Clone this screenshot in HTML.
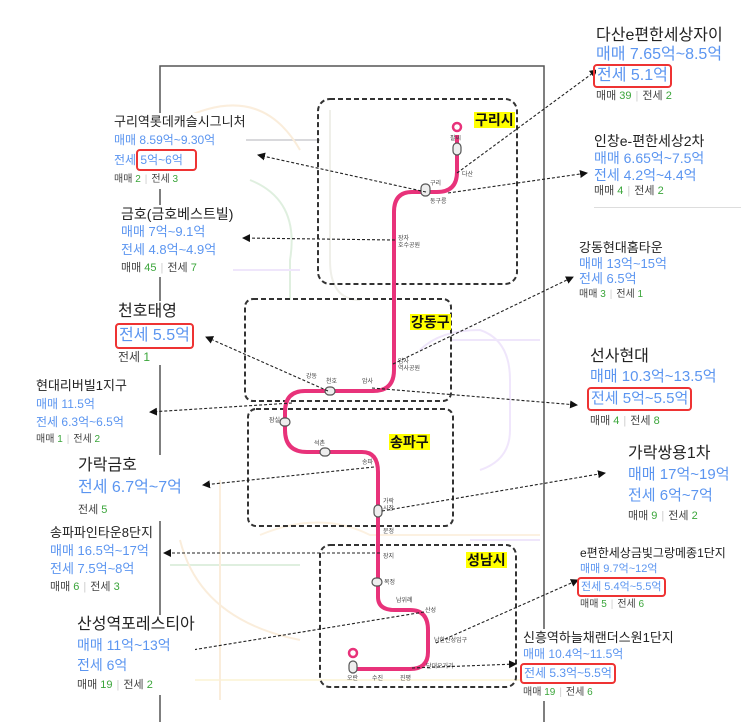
<!DOCTYPE html>
<html><head><meta charset="utf-8"><style>
body{margin:0;width:741px;height:722px;background:#fff;position:relative;overflow:hidden;font-family:"Liberation Sans","Noto Sans CJK KR",sans-serif}
.t{position:absolute;white-space:nowrap;background:#fff;line-height:1.2}
.t div{white-space:nowrap}
.h{color:#222}
.b{color:#5b95f0}
.s{color:#444}
.g{color:#3aa53a}
.sep{color:#ccc;margin:0 4px}
.box{border:2px solid #e33;border-radius:4px;padding:0 2px;margin-left:-3px;display:inline-block}
.y{position:absolute;background:#ffff00;font-weight:bold;color:#111;font-size:14px;line-height:16px;padding:0 1px}
</style></head><body>
<svg width="741" height="722" style="position:absolute;left:0;top:0">
<defs><marker id="a" markerWidth="8" markerHeight="8" refX="7" refY="4" orient="auto" markerUnits="userSpaceOnUse"><path d="M0,0 L8,4 L0,8z" fill="#111"/></marker></defs>
<g fill="none" stroke-width="2" opacity="0.18">
<path d="M160,140 H320" stroke="#334"/>
<path d="M180,120 Q260,80 300,150" stroke="#e8a040"/>
<path d="M250,180 Q300,200 290,260 V300" stroke="#5a5"/>
<path d="M330,110 V260 Q330,300 360,300" stroke="#aa8"/>
<path d="M170,270 H300" stroke="#a7e"/>
<path d="M450,340 H540" stroke="#a7e"/>
<path d="M420,350 Q440,330 480,330 Q510,340 510,380 V430 Q510,460 480,470" stroke="#a7e"/>
<path d="M170,565 H300" stroke="#5a5"/>
<path d="M180,540 Q200,620 300,640" stroke="#e8a040"/>
<path d="M260,535 Q320,510 370,535 H540" stroke="#f4b860"/>
<path d="M190,680 H540" stroke="#f4d050"/>
<path d="M220,480 V700" stroke="#e8a040"/>
<path d="M470,540 H540" stroke="#a7e"/>
</g>
<path d="M160,722 V66 H544 V722" fill="none" stroke="#555" stroke-width="1.5"/>
<g fill="none" stroke="#333" stroke-width="2" stroke-dasharray="5,3">
<rect x="318" y="99" width="199" height="185" rx="12"/>
<rect x="245" y="299" width="206" height="102" rx="8"/>
<rect x="248" y="409" width="205" height="117" rx="8"/>
<rect x="320" y="545" width="196" height="142" rx="10"/>
</g>
<path d="M457,135 V172 Q457,192 437,192 H412 Q394,192 394,212 V370 Q394,391 373,391 H305 Q285,391 285,412 V430 Q285,452 307,452 H362 Q378,452 378,472 V597 Q378,610 395,610 H410 Q428,610 428,630 V652 Q428,669 410,669 H353" fill="none" stroke="#e8327a" stroke-width="4"/>
<circle cx="457" cy="127" r="4" fill="#fff" stroke="#e8327a" stroke-width="2.5"/>
<circle cx="353" cy="653" r="4" fill="#fff" stroke="#e8327a" stroke-width="2.5"/>
<g fill="#eee" stroke="#555" stroke-width="1.2">
<rect x="453" y="143" width="8" height="12" rx="4"/>
<rect x="421" y="184" width="9" height="12" rx="4"/>
<rect x="325" y="387" width="10" height="8" rx="4"/>
<rect x="280" y="418" width="10" height="8" rx="4"/>
<rect x="320" y="448" width="10" height="8" rx="4"/>
<rect x="374" y="505" width="8" height="12" rx="4"/>
<rect x="372" y="578" width="10" height="8" rx="4"/>
<rect x="349" y="661" width="8" height="12" rx="4"/>
</g>
<g font-size="6" fill="#444">
<text x="450" y="140">팔씨</text><text x="462" y="176">다산</text><text x="430" y="185">구리</text><text x="430" y="203">동구릉</text>
<text x="398" y="240">장자</text><text x="398" y="247">호수공원</text><text x="398" y="363">암사</text><text x="398" y="370">역사공원</text>
<text x="326" y="383">천호</text><text x="306" y="378">강동</text><text x="362" y="383">암사</text><text x="269" y="422">잠실</text>
<text x="314" y="445">석촌</text><text x="362" y="464">송파</text><text x="383" y="503">가락</text><text x="383" y="510">시장</text>
<text x="383" y="533">문정</text><text x="383" y="558">장지</text><text x="384" y="584">복정</text><text x="396" y="602">남위례</text>
<text x="425" y="612">산성</text><text x="434" y="642">남한산성입구</text><text x="426" y="668">단대오거리</text>
<text x="347" y="680">오란</text><text x="372" y="680">수진</text><text x="400" y="680">진평</text>
</g>
<g stroke="#222" stroke-width="1.1" stroke-dasharray="3,2" fill="none" marker-end="url(#a)">
<line x1="457" y1="173" x2="597" y2="70"/>
<line x1="448" y1="193" x2="587" y2="173"/>
<line x1="426" y1="192" x2="258" y2="155"/>
<line x1="395" y1="240" x2="243" y2="238"/>
<line x1="393" y1="364" x2="573" y2="277"/>
<line x1="328" y1="391" x2="206" y2="337"/>
<line x1="372" y1="388" x2="577" y2="405"/>
<line x1="292" y1="403" x2="150" y2="412"/>
<line x1="374" y1="467" x2="203" y2="485"/>
<line x1="382" y1="511" x2="605" y2="473"/>
<line x1="380" y1="553" x2="164" y2="553"/>
<line x1="424" y1="612" x2="180" y2="652"/>
<line x1="436" y1="643" x2="578" y2="580"/>
<line x1="412" y1="668" x2="516" y2="664"/>
</g>
</svg>
<div class="y" style="left:474px;top:112px">구리시</div>
<div class="y" style="left:410px;top:314px">강동구</div>
<div class="y" style="left:389px;top:434px">송파구</div>
<div class="y" style="left:466px;top:552px">성남시</div>

<div class="t" style="left:596px;top:26px;font-size:16px"><div class="h">다산e편한세상자이</div><div class="b">매매 7.65억~8.5억</div><div class="b"><span class="box">전세 5.1억</span></div><div class="s" style="font-size:11px;margin-top:2px">매매 <span class="g">39</span><span class="sep">|</span>전세 <span class="g">2</span></div></div>
<div class="t" style="left:594px;top:133px;font-size:14px;width:147px;border-bottom:1px solid #ddd;padding-bottom:8px"><div class="h">인창e-편한세상2차</div><div class="b">매매 6.65억~7.5억</div><div class="b">전세 4.2억~4.4억</div><div class="s" style="font-size:11px;margin-top:2px">매매 <span class="g">4</span><span class="sep">|</span>전세 <span class="g">2</span></div></div>
<div class="t" style="left:579px;top:240px;font-size:13px"><div class="h">강동현대홈타운</div><div class="b">매매 13억~15억</div><div class="b">전세 6.5억</div><div class="s" style="font-size:10px;margin-top:2px">매매 <span class="g">3</span><span class="sep">|</span>전세 <span class="g">1</span></div></div>
<div class="t" style="left:590px;top:347px;font-size:15px;line-height:20px"><div class="h" style="font-size:16px">선사현대</div><div class="b">매매 10.3억~13.5억</div><div class="b"><span class="box">전세 5억~5.5억</span></div><div class="s" style="font-size:11px">매매 <span class="g">4</span><span class="sep">|</span>전세 <span class="g">8</span></div></div>
<div class="t" style="left:628px;top:443px;font-size:15px;line-height:21px"><div class="h" style="font-size:16px">가락쌍용1차</div><div class="b">매매 17억~19억</div><div class="b">전세 6억~7억</div><div class="s" style="font-size:11px">매매 <span class="g">9</span><span class="sep">|</span>전세 <span class="g">2</span></div></div>
<div class="t" style="left:580px;top:545px;font-size:11px;line-height:16px"><div class="h" style="font-size:12px">e편한세상금빛그랑메종1단지</div><div class="b">매매 9.7억~12억</div><div class="b"><span class="box">전세 5.4억~5.5억</span></div><div class="s" style="font-size:10px">매매 <span class="g">5</span><span class="sep">|</span>전세 <span class="g">6</span></div></div>
<div class="t" style="left:523px;top:629px;font-size:12px;line-height:17px"><div class="h" style="font-size:13px">신흥역하늘채랜더스원1단지</div><div class="b">매매 10.4억~11.5억</div><div class="b"><span class="box">전세 5.3억~5.5억</span></div><div class="s" style="font-size:10px">매매 <span class="g">19</span><span class="sep">|</span>전세 <span class="g">6</span></div></div>

<div class="t" style="left:114px;top:113px;font-size:12px;line-height:18px"><div class="h" style="font-size:13px">구리역롯데캐슬시그니처</div><div class="b">매매 8.59억~9.30억</div><div class="b">전세 <span class="box">5억~6억&nbsp;&nbsp;&nbsp;</span></div><div class="s" style="font-size:10px">매매 <span class="g">2</span><span class="sep">|</span>전세 <span class="g">3</span></div></div>
<div class="t" style="left:121px;top:205px;font-size:13px;line-height:18px"><div class="h" style="font-size:14px">금호(금호베스트빌)</div><div class="b">매매 7억~9.1억</div><div class="b">전세 4.8억~4.9억</div><div class="s" style="font-size:11px">매매 <span class="g">45</span><span class="sep">|</span>전세 <span class="g">7</span></div></div>
<div class="t" style="left:118px;top:301px;font-size:16px;line-height:22px"><div class="h">천호태영</div><div class="b"><span class="box">전세 5.5억</span></div><div class="s" style="font-size:12px;line-height:16px">전세 <span class="g">1</span></div></div>
<div class="t" style="left:36px;top:377px;font-size:12px;line-height:18px"><div class="h" style="font-size:13px">현대리버빌1지구</div><div class="b">매매 11.5억</div><div class="b">전세 6.3억~6.5억</div><div class="s" style="font-size:10px">매매 <span class="g">1</span><span class="sep">|</span>전세 <span class="g">2</span></div></div>
<div class="t" style="left:78px;top:455px;font-size:15px;line-height:22px"><div class="h" style="font-size:16px">가락금호</div><div class="b" style="font-size:16px">전세 6.7억~7억</div><div class="s" style="font-size:11px">전세 <span class="g">5</span></div></div>
<div class="t" style="left:50px;top:524px;font-size:13px;line-height:18px"><div class="h">송파파인타운8단지</div><div class="b">매매 16.5억~17억</div><div class="b">전세 7.5억~8억</div><div class="s" style="font-size:11px">매매 <span class="g">6</span><span class="sep">|</span>전세 <span class="g">3</span></div></div>
<div class="t" style="left:77px;top:615px;font-size:14px;line-height:20px"><div class="h" style="font-size:16px">산성역포레스티아</div><div class="b">매매 11억~13억</div><div class="b">전세 6억</div><div class="s" style="font-size:11px">매매 <span class="g">19</span><span class="sep">|</span>전세 <span class="g">2</span></div></div>
</body></html>
